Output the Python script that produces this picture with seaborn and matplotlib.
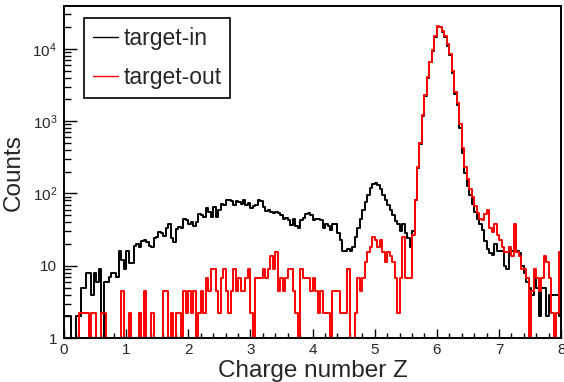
import numpy as np
import pandas as pd
import matplotlib
matplotlib.use("Agg")
import matplotlib.pyplot as plt
from matplotlib.lines import Line2D
from matplotlib.ticker import FixedLocator, FixedFormatter, LogLocator, MultipleLocator, NullFormatter
import seaborn as sns

# ---- data (200 bins, 0..8, width 0.04) ----
z_min, z_max, n_bins = 0.0, 8.0, 200

target_in = [
    2, 2, 2, 1, 1, 2, 2, 5, 5, 8, 8, 4, 8, 6, 9, 1, 6, 6, 7, 8, 8, 7, 16, 12, 9,
    16, 11, 11, 19, 20, 18, 22, 23, 21, 19, 18, 24, 25, 29, 28, 26, 33, 38, 24, 21, 32, 34, 33, 45, 43,
    38, 40, 36, 40, 52, 50, 47, 62, 55, 47, 64, 47, 60, 72, 70, 80, 82, 78, 70, 79, 76, 72, 80, 70, 74,
    62, 68, 70, 80, 78, 64, 58, 60, 55, 53, 55, 54, 50, 45, 46, 43, 37, 45, 36, 33, 43, 46, 52, 54, 50,
    43, 45, 45, 43, 33, 38, 36, 31, 38, 38, 28, 23, 16, 16, 17, 16, 18, 25, 33, 45, 60, 75, 95, 120, 137,
    139, 130, 117, 95, 80, 70, 60, 50, 42, 38, 30, 38, 28, 24, 18, 30, 80, 225, 490, 1180, 2250, 4000, 6500, 9300, 14700,
    20300, 19900, 17200, 14600, 11100, 8100, 4700, 2350, 1650, 800, 360, 190, 125, 95, 72, 55, 45, 38, 31, 22, 17, 15, 14, 20, 16,
    16, 16, 10, 9, 16, 16, 21, 16, 15, 10, 8, 6, 5, 4, 7, 5, 2, 5, 5, 2, 4, 4, 4, 4, 2,
]

target_out_counts = [
    0, 0, 0, 0, 0, 0, 1, 1, 1, 1, 0, 1, 1, 0, 0, 1, 1, 0, 0, 0, 0, 0, 0, 2, 0,
    0, 1, 0, 0, 0, 1, 0, 2, 0, 0, 1, 0, 0, 0, 0, 2, 2, 0, 1, 0, 1, 1, 0, 2, 1,
    2, 1, 2, 0, 1, 2, 1, 3, 2, 4, 4, 2, 1, 3, 4, 2, 1, 2, 4, 2, 3, 2, 2, 3, 4,
    1, 0, 3, 3, 3, 4, 3, 4, 6, 4, 7, 2, 3, 2, 3, 4, 4, 2, 1, 0, 4, 3, 3, 3, 2,
    3, 2, 1, 2, 1, 1, 1, 0, 2, 2, 2, 1, 1, 1, 4, 0, 0, 1, 3, 2, 3, 5, 7, 8, 11,
    10, 8, 10, 7, 5, 7, 6, 5, 3, 1, 3, 11, 3, 3, 3, 12, 36, 103, 223, 536, 1027, 1830, 2946, 4241, 6696,
    9152, 8929, 7813, 6696, 5134, 3795, 2232, 1116, 804, 402, 188, 103, 70, 52, 40, 30, 24, 20, 19, 23, 26, 15, 13, 17, 12,
    10, 8, 7, 7, 8, 6, 17, 7, 6, 4, 4, 3, 0, 2, 4, 3, 2, 3, 6, 5, 3, 1, 0, 1, 7,
]
target_out_norm = 2.24  # normalisation of target-out to target-in

y_ticks = [1, 10, 100, 1000, 10000]
y_tick_labels = ["1", "10", r"$10^{2}$", r"$10^{3}$", r"$10^{4}$"]
series_labels = ["target-in", "target-out"]

# ---- style ----
sns.set_style("ticks")
plt.rcParams["font.family"] = ["Liberation Sans", "DejaVu Sans"]
plt.rcParams["mathtext.fontset"] = "custom"
plt.rcParams["mathtext.rm"] = "Liberation Sans"
plt.rcParams["mathtext.it"] = "Liberation Sans"

edges = np.linspace(z_min, z_max, n_bins + 1)
centers = 0.5 * (edges[:-1] + edges[1:])
df = pd.DataFrame({
    "Z": np.concatenate([centers, centers]),
    "w": np.concatenate([np.array(target_in, float),
                         np.array(target_out_counts, float) * target_out_norm]),
    "sample": [series_labels[0]] * n_bins + [series_labels[1]] * n_bins,
})

fig = plt.figure(figsize=(5.64, 3.82), dpi=100)
ax = fig.add_axes([0.1135, 0.115, 0.8815, 0.869])

colors = {"target-in": "#000000", "target-out": "#ff0000"}
for lab in series_labels:
    sub = df[df["sample"] == lab]
    sns.histplot(data=sub, x="Z", weights="w", bins=list(edges), element="step",
                 fill=False, color=colors[lab], linewidth=1.4, ax=ax)

ax.set_yscale("log")
ax.set_xlim(z_min, z_max)
ax.set_ylim(1, 39000)

ax.xaxis.set_major_locator(MultipleLocator(1))
ax.xaxis.set_minor_locator(MultipleLocator(0.2))
ax.yaxis.set_major_locator(FixedLocator(y_ticks))
ax.yaxis.set_major_formatter(FixedFormatter(y_tick_labels))
ax.yaxis.set_minor_locator(LogLocator(base=10, subs=np.arange(2, 10)))
ax.yaxis.set_minor_formatter(NullFormatter())

ax.tick_params(which="both", direction="in", top=False, right=False, width=1.0, color="black")
ax.tick_params(axis="x", which="major", length=6.5, pad=3.5, labelsize=11)
ax.tick_params(axis="x", which="minor", length=3.6)
ax.tick_params(axis="y", which="major", length=9.4, pad=5, labelsize=11)
ax.tick_params(axis="y", which="minor", length=5)

for s in ax.spines.values():
    s.set_visible(True)
    s.set_linewidth(1.4)
    s.set_color("black")

ax.set_xlabel("Charge number Z", fontsize=17.5, labelpad=2)
ax.set_ylabel("Counts", fontsize=17.5, labelpad=5.5)

handles = [Line2D([], [], color=colors[l], lw=1.0) for l in series_labels]
leg = ax.legend(handles, series_labels, loc="upper left", bbox_to_anchor=(0.0402, 0.9639),
                borderaxespad=0, fontsize=16.5, frameon=True, fancybox=False,
                handlelength=1.09, handletextpad=0.22, borderpad=0.4, labelspacing=0.67)
leg.get_frame().set_edgecolor("black")
leg.get_frame().set_linewidth(1.2)
leg.get_frame().set_alpha(1)

fig.savefig("out.png", dpi=100)
